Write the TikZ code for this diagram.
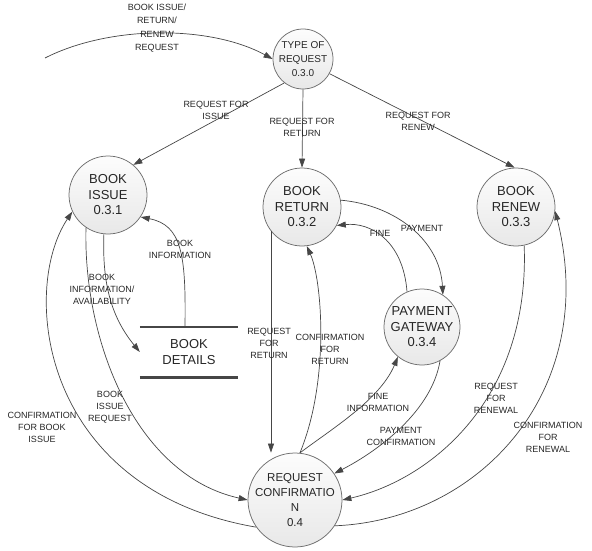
\documentclass[tikz,border=0pt]{standalone}
\usepackage{fontspec}
\setmainfont{Liberation Sans}
\usetikzlibrary{arrows.meta}

\definecolor{linegray}{RGB}{70,70,70}
\definecolor{rimgray}{RGB}{110,110,110}

\tikzset{
  proc/.style={circle, draw=rimgray, line width=0.75pt, top color=black!1,
    bottom color=black!9, minimum size=#1, inner sep=0pt},
  proctext/.style={align=center, text=black!85, font=\fontsize{13}{15.5}\selectfont},
  flow/.style={draw=linegray, line width=0.7pt, -{Triangle[length=9pt,width=6pt]}},
  store/.style={draw=linegray, line width=2.6pt},
  lbl/.style={align=center, text=black!85, font=\fontsize{9}{12}\selectfont, inner sep=0pt},
}

\begin{document}
\begin{tikzpicture}[x=1pt, y=-1pt]
  \useasboundingbox (0,0) rectangle (592,551);

  % Processes
  \node[proc=60pt, label={[proctext, font=\fontsize{10}{14}\selectfont]center:TYPE OF\\REQUEST\\0.3.0}] (type) at (303,59) {};
  \node[proc=78pt, label={[proctext]center:BOOK\\ISSUE\\0.3.1}] (issue) at (108,195) {};
  \node[proc=78pt, label={[proctext]center:BOOK\\RETURN\\0.3.2}] (ret) at (302,207) {};
  \node[proc=78pt, label={[proctext]center:BOOK\\RENEW\\0.3.3}] (renew) at (516,207) {};
  \node[proc=76pt, label={[proctext]center:PAYMENT\\GATEWAY\\0.3.4}] (pay) at (422,327) {};
  \node[proc=94pt, label={[proctext, font=\fontsize{11.5}{15}\selectfont]center:REQUEST\\CONFIRMATIO\\N\\0.4}] (rc) at (295,500) {};

  % Data store
  \node[proctext, minimum width=98pt, minimum height=50pt, inner sep=0pt] (details) at (189,352) {BOOK\\DETAILS};
  \draw[store] (details.north west) -- (details.north east);
  \draw[store] (details.south west) -- (details.south east);

  % Incoming request
  \coordinate (src) at (45,58);
  \draw[flow] (src) .. controls (110,25) and (210,25) .. (type.west);
  \node[lbl, font=\fontsize{9}{13.5}\selectfont] (lin) at (157,28) {BOOK ISSUE/\\RETURN/\\RENEW\\REQUEST};

  % Type of request -> processes
  \draw[flow] (type.-128) -- (issue.50);
  \draw[flow] (type.south) -- (ret.north);
  \draw[flow] (type.-29) -- (renew.92);
  \node[lbl] (lissue) at (216,110) {REQUEST FOR\\ISSUE};
  \node[lbl] (lret) at (302,127) {REQUEST FOR\\RETURN};
  \node[lbl] (lrenew) at (418,121) {REQUEST FOR\\RENEW};

  % Book issue <-> book details
  \draw[flow] (issue.-96) .. controls (102,285) and (112,318) .. (details.west);
  \draw[flow] ([xshift=-4pt]details.north) .. controls (186,255) and (182,225) .. (issue.-34);
  \node[lbl] (lavail) at (102,289) {BOOK\\INFORMATION/\\AVAILABILITY};
  \node[lbl] (linfo) at (180,249) {BOOK\\INFORMATION};

  % Book issue <-> request confirmation
  \draw[flow] (issue.-124) .. controls (83,340) and (135,475) .. (rc.west);
  \draw[flow] (rc.-145) .. controls (40,490) and (20,290) .. (issue.-155);
  \node[lbl] (lbir) at (110,407) {BOOK\\ISSUE\\REQUEST};
  \node[lbl] (lcbi) at (42,427) {CONFIRMATION\\FOR BOOK\\ISSUE};

  % Book return <-> request confirmation
  \draw[flow] (ret.-142) -- (ret.-142 |- rc.north);
  \draw[flow] (rc.84) .. controls (330,380) and (322,280) .. (ret.-83);
  \node[lbl] (lrfr) at (269,343) {REQUEST\\FOR\\RETURN};
  \node[lbl] (lcfr) at (330,349) {CONFIRMATION\\FOR\\RETURN};

  % Book return <-> payment gateway
  \draw[flow] (ret.10) .. controls (395,205) and (440,240) .. (pay.57);
  \draw[flow] (pay.113) .. controls (403,240) and (370,222) .. (ret.-28);
  \node[lbl] (lfine) at (380,233) {FINE};
  \node[lbl] (lpay) at (422,228) {PAYMENT};

  % Payment gateway <-> request confirmation
  \draw[flow] (rc.84) .. controls (330,430) and (380,400) .. (pay.-129);
  \draw[flow] (pay.-62) .. controls (432,410) and (380,450) .. (rc.34);
  \node[lbl] (lfinfo) at (378,402) {FINE\\INFORMATION};
  \node[lbl] (lpconf) at (401,436) {PAYMENT\\CONFIRMATION};

  % Book renew <-> request confirmation
  \draw[flow] (renew.-78) .. controls (530,400) and (430,480) .. (rc.east);
  \draw[flow] (rc.-33) .. controls (480,520) and (600,390) .. (renew.-6);
  \node[lbl] (lrenewal) at (496,398) {REQUEST\\FOR\\RENEWAL};
  \node[lbl] (lcrenewal) at (548,437) {CONFIRMATION\\FOR\\RENEWAL};
\end{tikzpicture}
\end{document}
